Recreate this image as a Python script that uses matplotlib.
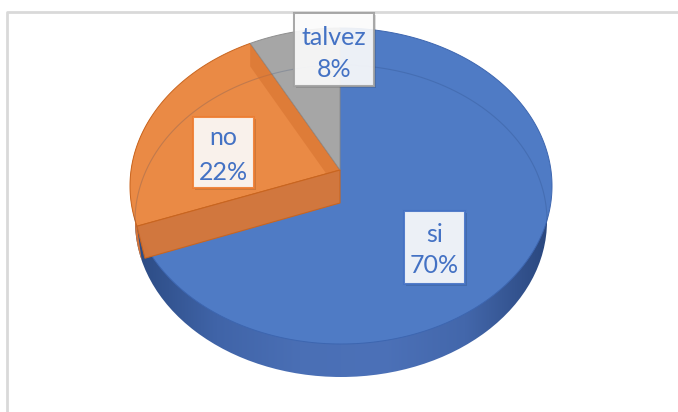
import numpy as np
import matplotlib
matplotlib.use("Agg")
import matplotlib.pyplot as plt
from matplotlib.patches import Polygon, Rectangle, Ellipse
from matplotlib.colors import LinearSegmentedColormap

# ---- data ----
categories = ["si", "no", "talvez"]
values = [70, 22, 8]
pct_labels = ["70%", "22%", "8%"]

# ---- style / layout ----
top_colors = ["#4f7bc5", "#ea8a45", "#a6a6a6"]
edge_colors = ["#3d66b0", "#c9651f", "#8f8f8f"]
box_edges = ["#4472c4", "#ed7d31", "#a0a0a0"]
label_centers = [(434.5, 247), (223.5, 152.5), (334, 49.5)]
box_sizes = [(61, 73), (61, 71), (80, 73)]
baselines = [(242, 273), (145, 180), (45, 77)]

W, H = 678, 412
fig = plt.figure(figsize=(6.78, 4.12), dpi=100)
ax = fig.add_axes([0, 0, 1, 1])
ax.set_xlim(0, W)
ax.set_ylim(H, 0)
ax.axis("off")

# frame
ax.plot([7, 7, W], [H, 12, 12], color="#d9d9d9", lw=2, zorder=0, solid_capstyle="butt")

AX, AY = 340, 170
TCX, TCY, TA, TB = 341, 186, 211, 158
BCX, BCY, BA, BB = 341, 221, 206, 156
DEPTH = 33
K_BACK, K_FRONT = 0.775, 0.852


def top_pt(phi):
    r = np.radians(phi)
    return np.column_stack([TCX + TA * np.cos(r), TCY - TB * np.sin(r)])


def bot_pt(phi):
    r = np.radians(phi)
    return np.column_stack([BCX + BA * np.cos(r), BCY - BB * np.sin(r)])


def boundary_phi(theta):
    """Perspective-like: ray from apex, intersect top ellipse, return ellipse parameter."""
    r = np.radians(theta)
    s = np.sin(r)
    k = K_BACK if s > 0 else K_FRONT
    dx, dy = np.cos(r), -k * s
    ox, oy = (AX - TCX) / TA, (AY - TCY) / TB
    ux, uy = dx / TA, dy / TB
    a = ux * ux + uy * uy
    b = 2 * (ox * ux + oy * uy)
    c = ox * ox + oy * oy - 1
    t = (-b + np.sqrt(b * b - 4 * a * c)) / (2 * a)
    x, y = AX + t * dx, AY + t * dy
    phi = np.degrees(np.arctan2(-(y - TCY) / TB, (x - TCX) / TA))
    # keep continuity with theta
    while phi - theta > 180:
        phi -= 360
    while theta - phi > 180:
        phi += 360
    return phi


total = float(sum(values))
bounds = []
start = 90.0
for v in values:
    end = start - 360.0 * v / total
    bounds.append((boundary_phi(start), boundary_phi(end)))
    start = end

# side wall (bottom ellipse with gradient)
cmap = LinearSegmentedColormap.from_list(
    "wall", ["#2b4a82", "#4064a8", "#4a6fb5", "#4c71b8", "#4367ab", "#2a477e"])
grad = np.linspace(0, 1, 256)[None, :]
im = ax.imshow(grad, extent=[BCX - BA - 2, BCX + BA + 2, BCY + BB + 2, TCY - TB],
               aspect="auto", cmap=cmap, zorder=1, interpolation="bilinear")
ell = Ellipse((BCX, BCY), 2 * BA, 2 * BB, transform=ax.transData, fc="none", ec="none")
ax.add_patch(ell)
im.set_clip_path(ell)
ax.set_xlim(0, W)
ax.set_ylim(H, 0)

# orange outer wall
no0, no1 = bounds[1]
ts = np.linspace(no0, no0 - 40, 60)
wall = np.vstack([top_pt(ts), bot_pt(ts[::-1])])
ax.add_patch(Polygon(wall, closed=True, fc="#d3753a", ec="none", zorder=2))

# top wedges
wedge_polys = []
for i, (t0, t1) in enumerate(bounds):
    ts = np.linspace(t0, t1, max(int(abs(t1 - t0)) * 2, 10))
    pts = np.vstack([[AX, AY], top_pt(ts)])
    wedge_polys.append(pts)
    ax.add_patch(Polygon(pts, closed=True, fc=top_colors[i], ec=edge_colors[i],
                         lw=0.7, zorder=3))

# inner (back) rim seen through
ts = np.linspace(0, 180, 200)
rim = bot_pt(ts)
ax.plot(rim[:, 0], rim[:, 1], color="#1f3a6b", alpha=0.2, lw=0.8, zorder=3.5)

# orange back radial face seen through, clipped to orange top
q = top_pt(np.array([no1]))[0]
band = Polygon([[AX, AY], q, q + [0, DEPTH - 10], [AX, AY + DEPTH - 10]], closed=True,
               fc="#d06b2a", alpha=0.45, ec="none", zorder=3.6)
ax.add_patch(band)
clip_poly = Polygon(wedge_polys[1], closed=True, transform=ax.transData, fc="none", ec="none")
ax.add_patch(clip_poly)
band.set_clip_path(clip_poly)

# orange front radial face
p = top_pt(np.array([no0]))[0]
face = [[AX, AY], p, p + [8, DEPTH - 1], [AX, AY + DEPTH]]
ax.add_patch(Polygon(face, closed=True, fc="#d6773a", ec="#c9651f", lw=0.8,
                     alpha=0.97, zorder=5))

# labels
for i in range(len(categories)):
    cx, cy = label_centers[i]
    w, h = box_sizes[i]
    ax.add_patch(Rectangle((cx - w / 2 + 2, cy - h / 2 + 2), w, h, fc="#000000",
                           alpha=0.12, ec="none", zorder=6))
    ax.add_patch(Rectangle((cx - w / 2, cy - h / 2), w, h, fc="white", alpha=0.9,
                           ec=box_edges[i], lw=1.5, zorder=7))
    b1, b2 = baselines[i]
    ax.text(cx, b1, categories[i], ha="center", va="baseline", fontsize=18,
            family=["Lato", "DejaVu Sans"], color="#4472c4", zorder=8)
    ax.text(cx, b2, pct_labels[i], ha="center", va="baseline", fontsize=18,
            family=["Lato", "DejaVu Sans"], color="#4472c4", zorder=8)

fig.savefig("out.png", dpi=100, facecolor="white")
